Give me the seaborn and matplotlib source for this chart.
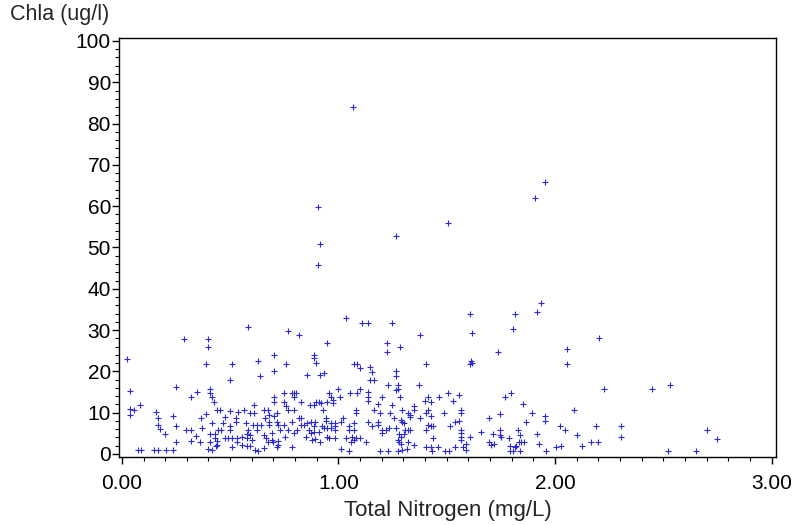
import matplotlib
matplotlib.use("Agg")
import matplotlib.pyplot as plt
from matplotlib.ticker import MultipleLocator, FormatStrFormatter
import pandas as pd
import seaborn as sns

# values (Total Nitrogen mg/L, Chla ug/l)
total_nitrogen = [
    0.026, 0.038, 0.248, 0.349, 0.317, 0.086, 0.038, 0.054, 0.038, 0.158,
    0.168, 0.235, 0.168, 0.177, 0.248, 0.197, 0.298, 0.317, 0.248, 0.317,
    0.075, 0.088, 0.149, 0.168, 0.206, 0.235,
    0.584, 0.288, 0.397, 0.397, 0.704,
    0.387, 0.507, 0.627, 0.638, 0.704, 0.498, 0.406, 0.406, 0.415, 0.424,
    0.609, 0.701, 0.701, 0.440, 0.452, 0.498, 0.535, 0.563, 0.590, 0.609,
    0.655, 0.673, 0.679, 0.387, 0.366, 0.476, 0.526, 0.526, 0.415, 0.467,
    0.572, 0.606, 0.624, 0.643, 0.661, 0.679, 0.679, 0.369, 0.446, 0.458,
    0.498, 0.501, 0.584, 0.624, 0.344, 0.406, 0.430, 0.430, 0.476, 0.492,
    0.507, 0.532, 0.532, 0.553, 0.578, 0.578, 0.593, 0.603, 0.655, 0.664,
    0.673, 0.692, 0.362, 0.409, 0.440, 0.440, 0.507, 0.556, 0.578, 0.593,
    0.658, 0.396, 0.415, 0.436, 0.615, 0.627,
    1.035, 1.107, 1.135, 1.247, 0.767, 0.816, 1.376, 0.946, 1.226, 1.226,
    1.284, 0.887, 0.887, 0.895,
    0.756, 0.857, 0.916, 0.934, 0.749, 0.786, 0.796, 0.805, 0.796, 0.749,
    0.759, 0.826, 0.765, 0.796, 0.869, 0.885, 0.897, 0.909, 0.919, 0.949,
    0.928, 0.955, 0.968, 0.977, 0.977, 0.996, 1.008, 1.054, 0.703, 0.716,
    0.817, 0.826, 0.786, 0.857, 0.872, 0.891, 0.943, 0.943, 0.965, 0.986,
    1.011, 1.023, 0.716, 0.722, 0.749, 0.826, 0.842, 0.888, 0.922, 0.934,
    0.949, 0.965, 0.986, 0.986, 1.051, 1.051, 0.731, 0.768, 0.811, 0.863,
    0.875, 0.888, 0.909, 0.694, 0.755, 0.796, 0.851, 0.878, 0.891, 0.946,
    0.955, 0.986, 1.035, 0.700, 0.719, 0.719, 0.915, 0.786, 0.716, 1.014,
    1.048,
    1.071, 1.086, 1.098, 1.144, 1.157, 1.264, 1.264, 1.406, 1.147, 1.166,
    1.227, 1.274, 1.274, 1.264, 1.372, 1.098, 1.086, 1.135, 1.135, 1.135,
    1.203, 1.286, 1.412, 1.400, 1.184, 1.246, 1.347, 1.347, 1.412, 1.083,
    1.083, 1.166, 1.194, 1.237, 1.292, 1.323, 1.332, 1.332, 1.375, 1.255,
    1.406, 1.289, 1.295, 1.304, 1.135, 1.157, 1.184, 1.184, 1.071, 1.071,
    1.203, 1.203, 1.218, 1.234, 1.264, 1.307, 1.320, 1.329, 1.403, 1.280,
    1.289, 1.304, 1.064, 1.083, 1.098, 1.058, 1.071, 1.126, 1.274, 1.280,
    1.289, 1.323, 1.350, 1.403, 1.194, 1.227, 1.277, 1.295, 1.317,
    1.506, 1.555, 1.466, 1.426, 1.527, 1.767, 1.487, 1.564, 1.564, 1.426,
    1.558, 1.536, 1.696, 1.745, 1.413, 1.426, 1.438, 1.515, 1.564, 1.564,
    1.564, 1.564, 1.656, 1.715, 1.745, 1.745, 1.438, 1.607, 1.589, 1.696,
    1.706, 1.718, 1.429, 1.459, 1.536, 1.576, 1.589, 1.432, 1.493, 1.509,
    1.934, 1.608, 1.815, 1.915, 1.615, 1.805, 1.735, 1.611, 1.617, 1.608,
    2.054, 2.205, 2.188, 2.125, 2.166, 2.198,
    2.054, 1.795, 1.854, 1.894, 1.955, 1.955, 2.088, 1.866, 2.023, 2.044,
    1.829, 1.838, 1.915, 2.103, 1.752, 1.786, 1.832, 1.844, 1.857, 1.820,
    1.814, 1.792, 1.924, 2.004, 2.026, 1.792, 1.808, 1.838, 1.958,
    2.226, 2.447, 2.533, 2.306, 2.306, 2.524, 2.653, 2.703, 2.746,
    1.065, 0.905, 0.915, 0.905, 1.265, 1.506, 1.906, 1.956,
]

chla = [
    22.9, 15.3, 16.1, 14.9, 13.7, 11.8, 11.0, 10.7, 9.4, 10.2,
    8.8, 9.1, 7.0, 6.0, 6.8, 4.9, 5.9, 5.9, 3.0, 3.1,
    0.9, 0.9, 0.9, 0.9, 0.9, 0.9,
    30.8, 27.8, 27.8, 25.8, 23.9,
    21.8, 21.8, 22.6, 18.9, 20.0, 17.8, 15.7, 14.7, 13.9, 12.7,
    11.8, 13.7, 12.6, 10.7, 10.7, 10.4, 10.1, 10.7, 9.9, 9.9,
    10.7, 10.7, 9.5, 9.7, 8.7, 8.9, 8.7, 7.7, 7.6, 7.6,
    7.5, 6.9, 6.9, 6.9, 8.6, 7.8, 7.0, 6.2, 5.9, 5.7,
    6.7, 5.7, 5.7, 5.9, 4.4, 4.9, 4.9, 3.8, 3.8, 3.8,
    3.8, 3.8, 3.0, 4.1, 4.9, 3.8, 4.6, 3.4, 4.7, 3.8,
    3.0, 3.4, 2.8, 2.8, 3.1, 2.1, 1.8, 2.1, 2.0, 2.0,
    1.5, 1.3, 1.0, 2.0, 1.0, 0.8,
    32.9, 31.8, 31.8, 31.8, 29.8, 28.8, 28.8, 26.8, 26.8, 24.8,
    25.8, 24.0, 23.2, 22.0,
    21.8, 19.1, 19.1, 19.7, 14.7, 14.7, 14.7, 14.7, 13.9, 12.6,
    11.5, 12.6, 10.7, 10.7, 11.9, 11.9, 12.7, 12.7, 12.3, 12.7,
    10.7, 14.7, 13.9, 13.1, 12.3, 15.7, 13.9, 14.7, 9.2, 9.9,
    8.8, 8.8, 7.8, 7.6, 7.8, 7.8, 8.8, 8.1, 7.6, 7.6,
    7.8, 8.8, 7.8, 6.9, 6.9, 6.9, 6.9, 6.8, 6.8, 6.2,
    6.2, 6.2, 6.8, 5.9, 6.7, 5.9, 5.9, 5.9, 5.9, 5.9,
    5.0, 5.3, 5.3, 5.0, 4.1, 5.0, 4.1, 3.4, 3.7, 4.1,
    3.8, 3.8, 3.8, 2.8, 3.1, 2.1, 3.0, 1.6, 1.8, 1.2,
    0.8,
    21.8, 21.8, 20.7, 21.0, 19.9, 20.2, 18.9, 21.8, 17.8, 17.8,
    16.8, 16.8, 15.8, 15.4, 16.8, 15.7, 14.7, 14.9, 13.9, 12.8,
    13.9, 13.7, 13.9, 12.9, 12.0, 11.8, 11.6, 10.7, 10.7, 10.7,
    9.9, 10.7, 9.9, 9.9, 10.7, 10.0, 9.5, 8.9, 8.8, 8.8,
    9.9, 8.3, 7.8, 7.5, 7.8, 6.8, 7.8, 6.9, 7.5, 5.9,
    5.7, 5.0, 5.9, 6.2, 6.3, 5.9, 5.9, 5.9, 5.9, 4.9,
    4.2, 4.9, 4.1, 3.8, 3.8, 3.0, 3.4, 3.0, 3.4, 2.8,
    2.5, 3.0, 2.1, 1.8, 0.8, 0.8, 0.8, 1.0, 1.3,
    14.7, 14.4, 13.9, 12.6, 12.9, 13.9, 9.9, 10.7, 9.9, 9.2,
    8.1, 7.8, 8.6, 9.6, 6.9, 6.8, 6.8, 6.8, 5.9, 5.0,
    4.2, 3.4, 5.3, 4.9, 5.9, 4.6, 3.8, 4.2, 2.5, 3.0,
    2.1, 2.5, 1.6, 1.6, 1.6, 1.6, 1.0, 0.8, 0.8, 0.8,
    36.5, 33.8, 33.8, 34.3, 29.2, 30.3, 24.7, 22.4, 22.0, 21.8,
    25.4, 28.2, 6.8, 2.0, 2.8, 3.0,
    21.8, 14.7, 12.2, 9.9, 9.1, 8.1, 10.7, 7.8, 6.8, 5.9,
    5.9, 4.7, 4.9, 4.6, 4.1, 3.8, 2.8, 2.8, 2.8, 2.0,
    1.6, 2.0, 2.5, 1.6, 2.0, 0.8, 0.8, 0.8, 0.8,
    15.8, 15.8, 16.8, 6.8, 4.0, 0.8, 0.8, 5.8, 3.6,
    83.9, 59.8, 50.9, 45.7, 52.8, 55.9, 61.9, 65.9,
]

x_ticks = [0, 1, 2, 3]
y_ticks = list(range(0, 101, 10))

df = pd.DataFrame({"tn": total_nitrogen, "chla": chla})

sns.set_theme(style="ticks")
plt.rcParams["font.family"] = ["Liberation Sans", "DejaVu Sans"]

fig = plt.figure(figsize=(7.95, 5.25), dpi=100)
ax = fig.add_axes([0.150, 0.1295, 0.826, 0.798])

sns.scatterplot(data=df, x="tn", y="chla", marker="+", s=22, color="#2a2ad8",
                linewidth=0.8, ax=ax, legend=False)

ax.set_xlim(-0.012, 3.02)
ax.set_ylim(-0.73, 100.7)
ax.set_xticks(x_ticks)
ax.set_yticks(y_ticks)
ax.xaxis.set_major_formatter(FormatStrFormatter("%.2f"))
ax.xaxis.set_minor_locator(MultipleLocator(0.1))
ax.yaxis.set_minor_locator(MultipleLocator(2))
ax.tick_params(axis="both", which="major", direction="out", length=5, width=1,
               labelsize=15, colors="black")
ax.tick_params(axis="y", which="major", pad=1)
ax.tick_params(axis="x", which="major", pad=7)
ax.tick_params(axis="both", which="minor", direction="out", length=3, width=0.8,
               colors="black")
for sp in ax.spines.values():
    sp.set_linewidth(1)
    sp.set_color("black")
ax.set_xlabel("")
ax.set_ylabel("")

fig.text(0.012, 0.973, "Chla (ug/l)", fontsize=15.5, ha="left", va="center")
fig.text(0.563, 0.028, "Total Nitrogen (mg/L)", fontsize=16, ha="center", va="center")

fig.savefig("out.png", dpi=100)
